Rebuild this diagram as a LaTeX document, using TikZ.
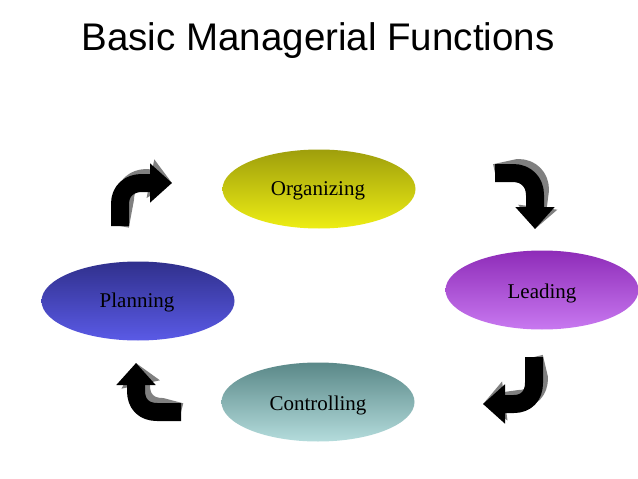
\documentclass[tikz,border=0pt]{standalone}
\usepackage{fontspec}
\setmainfont{Liberation Serif}
\newfontfamily\titlefont{Liberation Sans}
\usetikzlibrary{shapes.geometric,arrows.meta}
\definecolor{orgtop}{HTML}{9E9E0C}
\definecolor{orgbot}{HTML}{EEEE14}
\definecolor{leadtop}{HTML}{8E2CB8}
\definecolor{leadbot}{HTML}{C878F0}
\definecolor{plantop}{HTML}{30308C}
\definecolor{planbot}{HTML}{5A5AE6}
\definecolor{ctrltop}{HTML}{5A8888}
\definecolor{ctrlbot}{HTML}{B4DCDC}
\definecolor{shadowgray}{HTML}{808080}
\tikzset{
  func/.style={ellipse, draw=none, minimum width=193pt, minimum height=79pt,
    inner sep=0pt},
  functext/.style={font=\fontsize{21}{24}\selectfont},
  bent/.style={line width=18pt, line join=round, -{Triangle[width=38pt,length=22pt]}},
  bentshadow/.style={bent, draw=shadowgray, fill=none, shift={(5pt,5pt)}},
  bentmain/.style={bent, draw=black},
}
\begin{document}
\begin{tikzpicture}[x=1pt,y=-1pt]
\useasboundingbox (0,0) rectangle (638,479);
\fill[white] (0,0) rectangle (638,479);
\node[font=\titlefont\fontsize{38.5}{44}\selectfont] (title) at (318,41) {Basic Managerial Functions};
\node[func, top color=orgtop, bottom color=orgbot] (org) at (319,189) {};
\node[functext] at (318,191) (orgtext) {Organizing};
\node[func, top color=leadtop, bottom color=leadbot] (lead) at (542,290) {};
\node[functext] at (542,293) (leadtext) {Leading};
\node[func, top color=plantop, bottom color=planbot] (plan) at (138,301) {};
\node[functext] at (137,302) (plantext) {Planning};
\node[func, top color=ctrltop, bottom color=ctrlbot] (ctrl) at (318,402) {};
\node[functext] at (318,405) (ctrltext) {Controlling};
% arrow coordinates
\coordinate (a1s) at (120,226); \coordinate (a1e) at (172,183);
\coordinate (a2s) at (495,173); \coordinate (a2e) at (535,229);
\coordinate (a3s) at (534,357); \coordinate (a3e) at (483,404);
\coordinate (a4s) at (181,412); \coordinate (a4e) at (136,363);
\foreach \st in {bentshadow,bentmain}{
  \draw[\st] (a1s) -- (120,204) .. controls (120,191) and (129,183) .. (142,183) -- (a1e);
  \draw[\st] (a2s) -- (513,173) .. controls (526,173) and (535,182) .. (535,195) -- (a2e);
  \draw[\st] (a3s) -- (534,383) .. controls (534,396) and (526,404) .. (514,404) -- (a3e);
  \draw[\st] (a4s) -- (157,412) .. controls (144,412) and (136,404) .. (136,391) -- (a4e);
}
\end{tikzpicture}
\end{document}
